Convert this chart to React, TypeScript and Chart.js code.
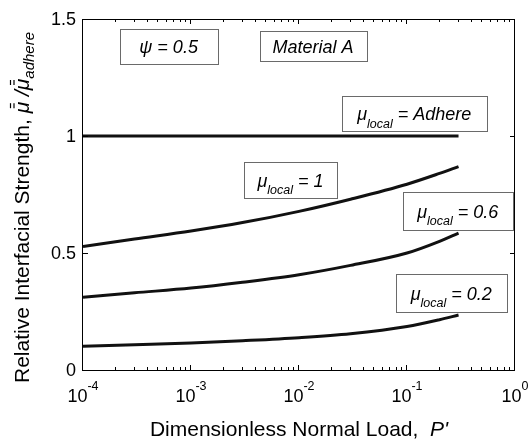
import React, { useEffect, useRef } from 'react';
import { Chart, registerables } from 'chart.js';

Chart.register(...registerables);

// ---------- data ----------
const loads = [1e-4, 3e-4, 1e-3, 3e-3, 1e-2, 3e-2, 1e-1, 2e-1, 3e-1];
const adhere = [1, 1, 1, 1, 1, 1, 1, 1, 1];
const mu1 = [0.528, 0.56, 0.594, 0.63, 0.678, 0.73, 0.794, 0.84, 0.869];
const mu06 = [0.311, 0.33, 0.35, 0.375, 0.407, 0.447, 0.5, 0.55, 0.585];
const mu02 = [0.102, 0.108, 0.115, 0.125, 0.138, 0.155, 0.186, 0.215, 0.235];

const xDecades = [-4, -3, -2, -1, 0];
const xMinorMultipliers = [2, 3, 4, 5, 6, 7, 8, 9];
const yTicks = [0, 0.5, 1, 1.5];
const yTickLabels = ['0', '0.5', '1', '1.5'];

const xTitleText = 'Dimensionless Normal Load,  ';
const xTitleVar = "P'";
const yTitleText = 'Relative Interfacial Strength, ';
const yTitleSub = 'adhere';

// text-box annotations (anchor = box centre, in data units)
const labelTexts = ['ψ = 0.5', 'Material A', ' = Adhere', ' = 1', ' = 0.6', ' = 0.2'];
const labelHasMu = [false, false, true, true, true, true];
const labelX = [6.2e-4, 0.0135, 0.1167, 0.00834, 0.295, 0.2565];
const labelY = [1.384, 1.383, 1.098, 0.813, 0.681, 0.33];

// ---------- styles ----------
const boxSizes: [number, number][] = [
  [98, 35],
  [107, 30],
  [145, 35],
  [93, 36],
  [110, 38],
  [111, 38],
];
const FAM = "'Liberation Sans', Arial, Helvetica, sans-serif";
const LINE = '#111111';

type Run = { t: string; font: string; dy: number; bars?: boolean };

function runsWidth(ctx: CanvasRenderingContext2D, runs: Run[]) {
  let w = 0;
  for (const r of runs) {
    ctx.font = r.font;
    w += ctx.measureText(r.t).width;
  }
  return w;
}

function drawRuns(ctx: CanvasRenderingContext2D, runs: Run[], x: number, y: number) {
  let cx = x;
  for (const r of runs) {
    ctx.font = r.font;
    const w = ctx.measureText(r.t).width;
    ctx.fillText(r.t, cx, y + r.dy);
    if (r.bars) {
      ctx.save();
      ctx.lineWidth = 1.2;
      ctx.strokeStyle = ctx.fillStyle as string;
      const bx = cx + w * 0.45;
      for (const off of [-14.5, -18]) {
        ctx.beginPath();
        ctx.moveTo(bx, y + off);
        ctx.lineTo(bx + 5, y + off);
        ctx.stroke();
      }
      ctx.restore();
    }
    cx += w;
  }
}

const decorPlugin = {
  id: 'decor',
  afterDatasetsDraw(chart: any) {
    const ctx: CanvasRenderingContext2D = chart.ctx;
    const xs = chart.scales.x;
    const ys = chart.scales.y;
    const { left, right, top, bottom } = chart.chartArea;
    ctx.save();

    // frame
    ctx.strokeStyle = '#000';
    ctx.lineWidth = 1;
    ctx.strokeRect(left - 0.5, top + 0.5, right - left, bottom - top);

    // x ticks (bottom and top, inside)
    ctx.beginPath();
    xDecades.forEach((d) => {
      const px = Math.round(xs.getPixelForValue(Math.pow(10, d))) - 0.5;
      ctx.moveTo(px, bottom);
      ctx.lineTo(px, bottom - 5);
      ctx.moveTo(px, top);
      ctx.lineTo(px, top + 5);
      if (d < 0) {
        xMinorMultipliers.forEach((m) => {
          const p = Math.round(xs.getPixelForValue(m * Math.pow(10, d))) - 0.5;
          ctx.moveTo(p, bottom);
          ctx.lineTo(p, bottom - 3);
          ctx.moveTo(p, top);
          ctx.lineTo(p, top + 3);
        });
      }
    });
    // y ticks (left and right, inside)
    yTicks.forEach((v) => {
      const py = Math.round(ys.getPixelForValue(v)) + 0.5;
      ctx.moveTo(left, py);
      ctx.lineTo(left + 5, py);
      ctx.moveTo(right, py);
      ctx.lineTo(right - 5, py);
    });
    ctx.stroke();

    ctx.fillStyle = '#000';
    // y tick labels
    ctx.font = `18px ${FAM}`;
    ctx.textAlign = 'right';
    ctx.textBaseline = 'middle';
    yTicks.forEach((v, i) => {
      ctx.fillText(yTickLabels[i], left - 7, ys.getPixelForValue(v) + 1.5);
    });

    // x tick labels 10^n
    ctx.textAlign = 'left';
    ctx.textBaseline = 'alphabetic';
    xDecades.forEach((d) => {
      const runs: Run[] = [
        { t: '10', font: `18px ${FAM}`, dy: 0 },
        { t: String(d), font: `12.5px ${FAM}`, dy: -11.5 },
      ];
      const w = runsWidth(ctx, runs);
      const px = xs.getPixelForValue(Math.pow(10, d));
      drawRuns(ctx, runs, px - w / 2, 401.5);
    });

    // x title
    const xRuns: Run[] = [
      { t: xTitleText, font: `21px ${FAM}`, dy: 0 },
      { t: xTitleVar, font: `italic 21px ${FAM}`, dy: 0 },
    ];
    const xw = runsWidth(ctx, xRuns);
    drawRuns(ctx, xRuns, (left + right) / 2 - xw / 2, 435.5);

    // y title (rotated)
    const yRuns: Run[] = [
      { t: yTitleText, font: `21px ${FAM}`, dy: 0 },
      { t: 'μ', font: `italic 21px ${FAM}`, dy: 0, bars: true },
      { t: ' /', font: `italic 21px ${FAM}`, dy: 0 },
      { t: 'μ', font: `italic 21px ${FAM}`, dy: 0, bars: true },
      { t: yTitleSub, font: `italic 15px ${FAM}`, dy: 5 },
    ];
    const yw = runsWidth(ctx, yRuns);
    ctx.save();
    ctx.translate(28.5, (top + bottom) / 2 + 13);
    ctx.rotate(-Math.PI / 2);
    drawRuns(ctx, yRuns, -yw / 2, 0);
    ctx.restore();

    // annotation boxes
    labelTexts.forEach((txt, i) => {
      const cx = xs.getPixelForValue(labelX[i]);
      const cy = ys.getPixelForValue(labelY[i]);
      const [bw, bh] = boxSizes[i];
      const bx = Math.round(cx - bw / 2) + 0.5;
      const by = Math.round(cy - bh / 2) + 0.5;
      ctx.fillStyle = '#fff';
      ctx.fillRect(bx, by, bw, bh);
      ctx.strokeStyle = '#6a6a6a';
      ctx.lineWidth = 1;
      ctx.strokeRect(bx, by, bw, bh);
      ctx.fillStyle = '#000';
      const runs: Run[] = labelHasMu[i]
        ? [
            { t: 'μ', font: `italic 18px ${FAM}`, dy: 0 },
            { t: 'local', font: `italic 12.5px ${FAM}`, dy: 7.5 },
            { t: txt, font: `italic 18px ${FAM}`, dy: 0 },
          ]
        : [{ t: txt, font: `italic 18px ${FAM}`, dy: 0 }];
      const w = runsWidth(ctx, runs);
      drawRuns(ctx, runs, cx - w / 2, cy + (labelHasMu[i] ? 7 : 6.5));
    });

    ctx.restore();
  },
};

function mk(values: number[]) {
  return {
    data: loads.map((x, i) => ({ x, y: values[i] })),
    borderColor: LINE,
    borderWidth: 3,
    pointRadius: 0,
    fill: false,
    cubicInterpolationMode: 'monotone' as const,
  };
}

export default function App() {
  const ref = useRef<HTMLCanvasElement>(null);
  useEffect(() => {
    if (!ref.current) return;
    const chart = new Chart(ref.current, {
      type: 'line',
      data: {
        datasets: [mk(adhere), mk(mu1), mk(mu06), mk(mu02)],
      },
      options: {
        responsive: false,
        animation: false,
        devicePixelRatio: 1,
        layout: { padding: { left: 83, right: 16, top: 19, bottom: 70 } },
        plugins: { legend: { display: false }, tooltip: { enabled: false } },
        scales: {
          x: { type: 'logarithmic', min: 1e-4, max: 1, display: false },
          y: { type: 'linear', min: 0, max: 1.5, display: false },
        },
      },
      plugins: [decorPlugin],
    });
    return () => chart.destroy();
  }, []);
  return (
    <div style={{ position: 'absolute', left: 0, top: 0, width: 531, height: 440, background: '#fff' }}>
      <canvas ref={ref} width={531} height={440} />
    </div>
  );
}
